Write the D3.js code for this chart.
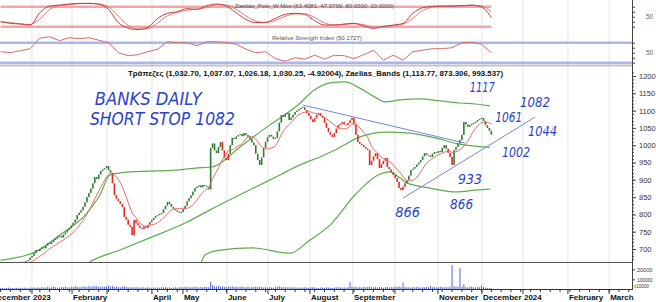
<!DOCTYPE html>
<html>
<head>
<meta charset="utf-8">
<script src="https://cdn.jsdelivr.net/npm/d3@7"></script>
<style>
  body { margin: 0; background: #fff; }
  svg { display: block; }
  text { font-family: "Liberation Sans", Arial, sans-serif; }
</style>
</head>
<body>
<div id="chart"></div>
<script>
var width = 656, height = 302;

// trading-day index 0 = first session of Jan 2023
var firstDay = -16;
var closes = [
  642, 645, 640, 648, 652, 650, 655, 658, 654, 660,
  660, 663, 658, 665, 668, 675, 680, 688, 697, 694,
  700, 705, 702, 710, 717, 714, 720, 726, 730, 735,
  738, 733, 742, 748, 755, 760, 768, 776, 785, 798,
  805, 812, 822, 835, 850, 862, 875, 890, 908, 902,
  915, 925, 930, 934, 940, 928, 920, 890, 856, 845,
  838, 830, 821, 793, 785, 770, 764, 740, 784, 775,
  768, 761, 758, 765, 761, 770, 778, 784, 790, 795,
  798, 802, 804, 815, 825, 836, 830, 822, 816, 812,
  808, 805, 807, 815, 825, 838, 847, 855, 866, 876,
  880, 884, 878, 885, 882, 879, 872, 992, 1005, 985,
  977, 995, 1009, 985, 963, 957, 975, 1000, 1021, 1018,
  1025, 1029, 1032, 1026, 1035, 1030, 1024, 1018, 1008, 1000,
  975, 957, 943, 965, 992, 1010, 1024, 1030, 1025, 1018,
  1021, 1040, 1065, 1087, 1082, 1090, 1093, 1073, 1080, 1088,
  1096, 1100, 1104, 1108, 1110, 1102, 1093, 1085, 1075, 1067,
  1078, 1088, 1093, 1085, 1079, 1065, 1050, 1038, 1030, 1024,
  1035, 1048, 1058, 1062, 1067, 1060, 1058, 1064, 1072, 1079,
  1060, 1030, 1009, 1004, 1000, 995, 990, 986, 943, 955,
  968, 977, 960, 934, 945, 955, 963, 937, 930, 922,
  914, 905, 894, 876, 870, 880, 890, 899, 912, 928,
  932, 937, 944, 950, 957, 968, 977, 972, 970, 966,
  975, 980, 978, 983, 980, 992, 1000, 990, 978, 966,
  943, 986, 995, 1005, 1015, 1030, 1067, 1060, 1053, 1058,
  1062, 1064, 1068, 1073, 1076, 1079, 1070, 1058, 1050, 1042,
  1030
];
// volume in thousands
var volumes = [
  1.2, 1.5, 1.0, 1.3, 1.8, 1.1, 1.4, 1.2, 1.6, 1.3,
  1.5, 1.2, 1.7, 1.4, 1.1, 1.9, 1.6, 2.0, 1.4, 1.8,
  1.5, 2.2, 1.7, 1.9, 2.4, 1.6, 2.0, 3.0, 2.1, 1.8,
  1.6, 2.3, 1.9, 2.8, 2.0, 1.7, 2.5, 2.2, 3.2, 2.6,
  2.0, 2.4, 3.0, 2.7, 2.2, 3.4, 2.5, 2.9, 3.6, 3.1,
  2.6, 2.2, 2.8, 2.4, 3.0, 3.5, 2.7, 3.2, 2.5, 2.9,
  2.3, 2.0, 2.6, 3.1, 2.4, 1.9, 2.2, 2.0, 1.7, 2.3,
  1.9, 1.6, 2.1, 1.8, 1.5, 2.0, 1.7, 1.4, 1.9, 1.6,
  1.8, 1.5, 2.1, 1.7, 2.3, 1.6, 1.9, 1.4, 1.8, 2.0,
  1.6, 1.9, 2.2, 1.7, 2.5, 2.0, 2.4, 1.8, 2.1, 2.6,
  2.2, 1.9, 2.4, 2.0, 2.7, 2.3, 2.1, 7.6, 4.2, 3.1,
  2.8, 3.5, 2.6, 2.9, 2.4, 2.2, 2.7, 2.5, 3.0, 2.3,
  2.6, 2.1, 2.4, 2.8, 2.2, 2.0, 2.5, 1.9, 2.3, 2.1,
  2.8, 2.4, 2.6, 2.2, 1.9, 2.1, 1.7, 2.0, 1.8, 1.6,
  2.2, 2.6, 3.0, 2.4, 2.0, 2.3, 1.9, 2.1, 1.8, 2.2,
  1.9, 1.7, 2.0, 1.6, 1.8, 2.1, 1.7, 1.5, 1.9, 2.2,
  1.8, 1.6, 1.4, 1.9, 1.7, 1.5, 2.0, 1.8, 1.6, 1.4,
  1.7, 1.9, 2.3, 1.8, 1.6, 2.0, 1.7, 2.2, 7.4, 2.6,
  2.1, 2.4, 1.9, 2.2, 1.8, 2.6, 2.0, 2.3, 2.8, 2.1,
  1.9, 2.2, 1.8, 2.4, 2.0, 1.7, 2.1, 2.5, 1.9, 2.2,
  2.0, 2.6, 2.3, 2.8, 2.1, 6.9, 2.4, 2.0, 2.2, 1.8,
  2.1, 1.9, 2.4, 2.0, 1.7, 2.2, 1.9, 2.5, 2.1, 3.4,
  2.0, 2.3, 1.8, 2.1, 2.6, 2.2, 1.9, 2.4, 2.0, 2.7,
  24.2, 3.1, 2.4, 2.8, 21.3, 2.6, 5.1, 2.2, 1.9, 2.4,
  2.8, 2.1, 1.8, 2.5, 2.0, 3.6, 2.2, 1.7, 1.5, 1.3,
  1.2
];
// sessions drawn in red (down-trend signal)
var redSpans = [[41, 60], [97, 100], [140, 190], [212, 214]];

// Zaelias bands [day, value]
var upperBand = [[-16, 668], [1.5, 691], [14, 740], [27, 798], [34.6, 856], [39.7, 914], [50, 923],
  [60, 925], [73, 928], [83, 934], [91.7, 937], [106, 995], [121, 1058], [135.5, 1116], [144, 1160],
  [152, 1180], [159.4, 1183], [167, 1165], [174.7, 1139], [180, 1125], [187.5, 1131], [197.7, 1134],
  [207.8, 1128], [218, 1122], [225.7, 1119], [233.3, 1113.77]];
var middleBand = [[27, 654], [29.5, 663], [44.8, 697], [60, 732], [78, 775], [90.7, 813], [111, 871],
  [126.3, 914], [136.5, 943], [146.7, 966], [154.4, 986], [167, 1024], [180, 1038], [192.6, 1035],
  [205.3, 1021], [218, 1003], [233.3, 993.537]];
var lowerBand = [[85.6, 651], [88.1, 683], [95.8, 697], [112.6, 703], [131.4, 688], [141.6, 726],
  [151.8, 769], [164.5, 856], [176.3, 914], [182.4, 923], [187.5, 905], [191, 891], [202.8, 876],
  [216.5, 865], [225.7, 870], [233.3, 873.306]];

// oscillators sampled every 5 sessions from firstDay
var peleFast = [35, 30, 28, 25, 62, 82, 85, 88, 90, 90, 87, 72, 32, 16, 11, 18, 45, 60, 65, 74,
  72, 83, 88, 82, 62, 42, 32, 33, 45, 57, 60, 57, 38, 25, 25, 28, 30, 22, 15, 21,
  25, 30, 60, 77, 81, 82, 82, 83, 85, 79, 48];
var rsiVals = [52, 50, 54, 58, 79, 82, 74, 80, 78, 80, 75, 70, 50, 44, 46, 52, 57, 72, 70, 70,
  64, 72, 72, 70, 67, 57, 50, 52, 38, 33, 40, 37, 45, 37, 45, 44, 38, 46, 55, 35,
  45, 35, 52, 55, 58, 58, 60, 70, 71, 67, 50];

// hand drawn trend lines [day, value]
var trendLines = [
  [[138, 1116], [220.6, 1006]],
  [[189, 847], [256.2, 1081]]
];
var notes = [
  {text: "BANKS DAILY", day: 32, value: 1116, size: 17, len: 107},
  {text: "SHORT STOP 1082", day: 29.5, value: 1058, size: 17, len: 145},
  {text: "1117", day: 223, value: 1154, size: 14, len: 25},
  {text: "1082", day: 248.6, value: 1110, size: 14, len: 30},
  {text: "1061", day: 236, value: 1067, size: 14, len: 27},
  {text: "1044", day: 252.7, value: 1027, size: 14, len: 29},
  {text: "1002", day: 239.4, value: 966, size: 14, len: 28},
  {text: "933", day: 217, value: 888, size: 14, len: 24},
  {text: "866", day: 185, value: 792, size: 14, len: 25},
  {text: "866", day: 213, value: 816, size: 14, len: 23}
];

var months = [
  {label: "December", day: -21}, {label: "2023", day: 0}, {label: "February", day: 20.4},
  {label: "", day: 38.2}, {label: "April", day: 61.1}, {label: "May", day: 76.9},
  {label: "June", day: 99.3}, {label: "July", day: 120.2}, {label: "August", day: 141.6},
  {label: "September", day: 163.5}, {label: "", day: 184.9}, {label: "November", day: 206.8},
  {label: "December", day: 229.2}, {label: "2024", day: 250.1}, {label: "February", day: 273},
  {label: "March", day: 294}
];
var priceTicks = d3.range(700, 1201, 50);

var lastDay = firstDay + closes.length - 1;
var sampleDays = peleFast.map(function(d, k) { return firstDay + k * 5; });

var svg = d3.select("#chart").append("svg")
  .attr("width", width).attr("height", height);

var plotRight = 632;
var x = d3.scaleLinear().domain([-16.3, 305.65]).range([0, plotRight]);
var y = d3.scaleLinear().domain([700, 1200]).range([249, 76]);
var yPele = d3.scaleLinear().domain([20, 80]).range([26.7, 6.7]);
var yRsi = d3.scaleLinear().domain([30, 70]).range([62.7, 42.7]);
var yVol = d3.scaleLinear().domain([0, 10]).range([289.3, 279.3]);

svg.append("clipPath").attr("id", "mainClip")
  .append("rect").attr("x", 0).attr("y", 66).attr("width", plotRight).attr("height", 196);

// month grid
svg.append("g").selectAll("line")
  .data(months).enter().append("line")
    .attr("x1", function(d) { return x(d.day); })
    .attr("x2", function(d) { return x(d.day); })
    .attr("y1", 0).attr("y2", 289)
    .style("stroke", "#e4e4e4").style("stroke-width", 1);

// ---- Pele panel
svg.append("g").selectAll("line")
  .data([80, 20]).enter().append("line")
    .attr("x1", x(firstDay)).attr("x2", x(lastDay))
    .attr("y1", function(d) { return yPele(d); })
    .attr("y2", function(d) { return yPele(d); })
    .style("stroke", "#f6a5a5").style("stroke-width", 2.5);

var peleSlow = peleFast.map(function(v, k) { return k ? (v + peleFast[k - 1]) / 2 : v; });
var peleLine = d3.line()
  .x(function(d, k) { return x(sampleDays[k]); })
  .y(function(d) { return yPele(d); })
  .curve(d3.curveMonotoneX);
svg.append("path").datum(peleSlow).attr("d", peleLine)
  .style("fill", "none").style("stroke", "#e07a7a").style("stroke-width", 1);
svg.append("path").datum(peleFast).attr("d", peleLine)
  .style("fill", "none").style("stroke", "#c83c3c").style("stroke-width", 1);

svg.append("text").attr("x", 235).attr("y", 8)
  .style("font-size", "6px").style("fill", "#555")
  .text("Zaelias_Pele_W Mov (63.4081, 47.9799, 80.0000, 20.0000)");

// ---- RSI panel
svg.append("g").selectAll("line")
  .data([70, 30]).enter().append("line")
    .attr("x1", 0).attr("x2", plotRight)
    .attr("y1", function(d) { return yRsi(d); })
    .attr("y2", function(d) { return yRsi(d); })
    .style("stroke", "#aab6f2").style("stroke-width", 2.5);

svg.append("path").datum(rsiVals)
  .attr("d", d3.line()
    .x(function(d, k) { return x(sampleDays[k]); })
    .y(function(d) { return yRsi(d); }))
  .style("fill", "none").style("stroke", "#d86a6a").style("stroke-width", 1);

svg.append("text").attr("x", 272).attr("y", 40)
  .style("font-size", "6px").style("fill", "#555")
  .text("Relative Strength Index (50.1727)");

svg.append("line").attr("x1", 0).attr("x2", plotRight).attr("y1", 65.5).attr("y2", 65.5)
  .style("stroke", "#c4c4c4").style("stroke-width", 2);

// ---- main price panel
var main = svg.append("g").attr("clip-path", "url(#mainClip)");

var bars = closes.map(function(c, k) {
  return {day: firstDay + k, open: k ? closes[k - 1] : c, close: c,
          ma: k >= 9 ? d3.mean(closes.slice(k - 9, k + 1)) : null};
});
function isRed(day) {
  return redSpans.some(function(s) { return day >= s[0] && day <= s[1]; });
}

var bandLine = d3.line()
  .x(function(d) { return x(d[0]); })
  .y(function(d) { return y(d[1]); })
  .curve(d3.curveMonotoneX);
[upperBand, middleBand, lowerBand].forEach(function(b) {
  main.append("path").datum(b).attr("d", bandLine)
    .style("fill", "none").style("stroke", "#5cae4c").style("stroke-width", 1.2);
});

main.append("g").selectAll("rect")
  .data(bars).enter().append("rect")
    .attr("x", function(d) { return x(d.day) - 0.8; })
    .attr("width", 1.6)
    .attr("y", function(d) { return y(Math.max(d.open, d.close)); })
    .attr("height", function(d) { return Math.max(1, Math.abs(y(d.open) - y(d.close))); })
    .style("fill", function(d) { return isRed(d.day) ? "#e8281e" : "#2f7d32"; });

main.append("path").datum(bars.filter(function(d) { return d.ma !== null; }))
  .attr("d", d3.line()
    .x(function(d) { return x(d.day); })
    .y(function(d) { return y(d.ma); }))
  .style("fill", "none").style("stroke", "#e86a6a").style("stroke-width", 1);

main.append("g").selectAll("line")
  .data(trendLines).enter().append("line")
    .attr("x1", function(d) { return x(d[0][0]); })
    .attr("y1", function(d) { return y(d[0][1]); })
    .attr("x2", function(d) { return x(d[1][0]); })
    .attr("y2", function(d) { return y(d[1][1]); })
    .style("stroke", "#7486dc").style("stroke-width", 1);

svg.append("g").selectAll("text")
  .data(notes).enter().append("text")
    .attr("x", function(d) { return x(d.day); })
    .attr("y", function(d) { return y(d.value); })
    .attr("textLength", function(d) { return d.len; })
    .attr("lengthAdjust", "spacingAndGlyphs")
    .style("font-family", "'DejaVu Sans', 'Liberation Sans', sans-serif")
    .style("font-weight", 200)
    .style("font-size", function(d) { return d.size + "px"; })
    .style("font-style", "italic")
    .style("fill", "#2b3fd0")
    .text(function(d) { return d.text; });

svg.append("text").attr("x", 128).attr("y", 76)
  .attr("textLength", 375).attr("lengthAdjust", "spacingAndGlyphs")
  .style("font-size", "8px").style("font-weight", "bold").style("fill", "#111")
  .text("Τράπεζες (1,032.70, 1,037.07, 1,026.18, 1,030.25, -4.92004), Zaelias_Bands (1,113.77, 873.306, 993.537)");

svg.append("line").attr("x1", 0).attr("x2", plotRight).attr("y1", 262.5).attr("y2", 262.5)
  .style("stroke", "#555").style("stroke-width", 1);

// ---- volume
svg.append("g").selectAll("line")
  .data(volumes).enter().append("line")
    .attr("x1", function(d, k) { return x(firstDay + k); })
    .attr("x2", function(d, k) { return x(firstDay + k); })
    .attr("y1", yVol(0))
    .attr("y2", function(d) { return yVol(d); })
    .style("stroke", "#5267d8").style("stroke-width", 1);

// ---- right axes
svg.append("line").attr("x1", plotRight + 0.5).attr("x2", plotRight + 0.5).attr("y1", 0).attr("y2", 290)
  .style("stroke", "#444");

var axMinor = svg.append("g").attr("transform", "translate(" + plotRight + ",0)")
  .call(d3.axisRight(y).tickValues(d3.range(670, 1211, 10)).tickSize(2).tickFormat(""));
var axMain = svg.append("g").attr("transform", "translate(" + plotRight + ",0)")
  .call(d3.axisRight(y).tickValues(priceTicks).tickSize(4).tickPadding(3).tickFormat(d3.format("d")));
var axPele = svg.append("g").attr("transform", "translate(" + plotRight + ",0)")
  .call(d3.axisRight(yPele).tickValues([20, 35, 50, 65, 80]).tickSize(3).tickPadding(11)
    .tickFormat(function(d) { return d === 50 ? "50" : ""; }));
var axRsi = svg.append("g").attr("transform", "translate(" + plotRight + ",0)")
  .call(d3.axisRight(yRsi).tickValues([30, 40, 50, 60, 70]).tickSize(3).tickPadding(11)
    .tickFormat(function(d) { return d === 50 ? "50" : ""; }));
var axVol = svg.append("g").attr("transform", "translate(" + plotRight + ",0)")
  .call(d3.axisRight(yVol).tickValues([10, 20]).tickSize(3).tickPadding(2)
    .tickFormat(function(d) { return d * 1000; }));

[axMinor, axMain, axPele, axRsi, axVol].forEach(function(a) {
  a.select(".domain").remove();
  a.selectAll("line").style("stroke", "#444");
  a.selectAll("text").style("font-family", "Liberation Sans, Arial, sans-serif").style("fill", "#333");
});
axMain.selectAll("text").style("font-size", "7.5px");
axPele.selectAll("text").style("font-size", "6.5px").style("fill", "#666");
axRsi.selectAll("text").style("font-size", "6.5px").style("fill", "#666");
axVol.selectAll("text").style("font-size", "5.5px");

svg.append("text").attr("x", 634).attr("y", 288)
  .style("font-size", "4.5px").style("fill", "#333").text("x10000");

// ---- date axis
svg.append("line").attr("x1", 0).attr("x2", plotRight).attr("y1", 289.5).attr("y2", 289.5)
  .style("stroke", "#333");

svg.append("g").selectAll("line")
  .data(d3.range(firstDay, 306, 5)).enter().append("line")
    .attr("x1", function(d) { return x(d); })
    .attr("x2", function(d) { return x(d); })
    .attr("y1", 289.5).attr("y2", 292)
    .style("stroke", "#333");

svg.append("g").selectAll("line")
  .data(months).enter().append("line")
    .attr("x1", function(d) { return x(d.day); })
    .attr("x2", function(d) { return x(d.day); })
    .attr("y1", 289.5).attr("y2", 294)
    .style("stroke", "#333");

svg.append("g").selectAll("text")
  .data(months).enter().append("text")
    .attr("x", function(d) { return x(d.day) + 1; })
    .attr("y", 300)
    .style("font-size", "8px").style("font-weight", "bold").style("fill", "#111")
    .text(function(d) { return d.label; });
</script>
</body>
</html>
